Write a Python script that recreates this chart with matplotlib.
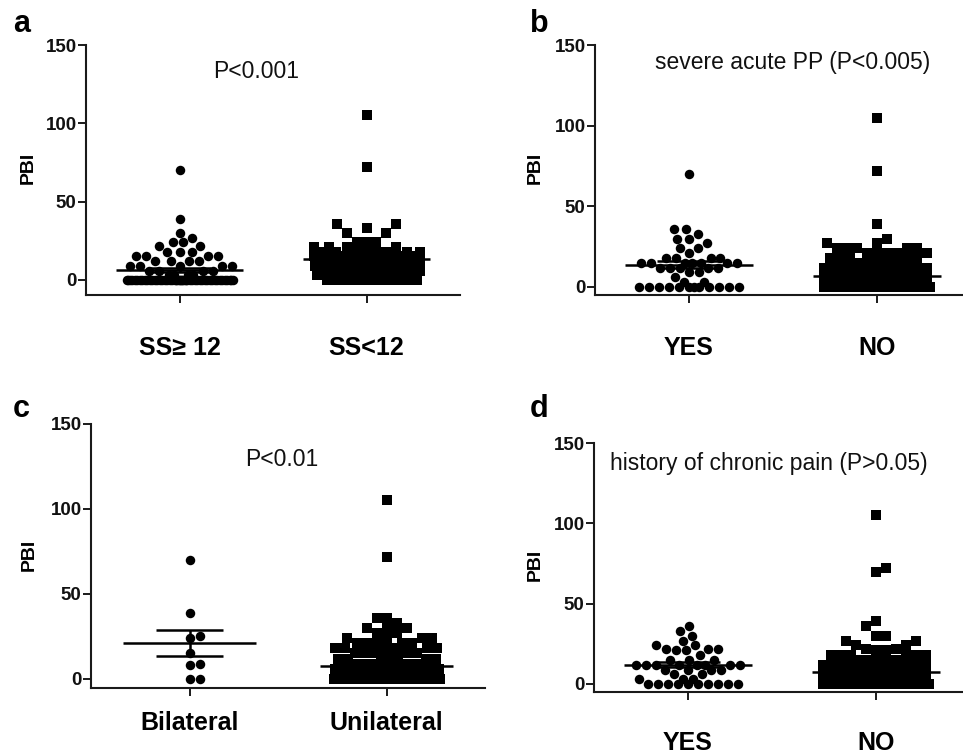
import numpy as np
import matplotlib
matplotlib.use('Agg')
import matplotlib.pyplot as plt

plt.rcParams['font.family'] = ['Liberation Sans', 'DejaVu Sans']

# PBI values and how many patients sit at each value
# a: SS>=12 vs SS<12
a_hi_vals = [70, 39, 30, 27, 24, 22, 18, 15, 12, 9, 6, 3, 0]
a_hi_counts = [1, 1, 1, 1, 2, 2, 3, 4, 4, 5, 4, 4, 50]
a_lo_vals = [105, 72, 36, 33, 30, 24, 21, 18, 15, 12, 9, 6, 3, 0]
a_lo_counts = [1, 1, 2, 1, 2, 3, 4, 8, 10, 10, 10, 10, 10, 10]

# b: severe acute postoperative pain yes / no
b_yes_vals = [70, 36, 33, 30, 27, 24, 21, 18, 15, 12, 9, 6, 3, 0]
b_yes_counts = [1, 2, 1, 2, 1, 2, 1, 4, 7, 5, 2, 1, 2, 12]
b_no_vals = [105, 72, 39, 30, 27, 24, 21, 18, 15, 12, 9, 6, 3, 0]
b_no_counts = [1, 1, 1, 1, 2, 5, 5, 5, 8, 7, 8, 8, 8, 83]

# c: bilateral vs unilateral
c_bi_vals = [70, 39, 25, 24, 15, 9, 8, 0]
c_bi_counts = [1, 1, 1, 1, 1, 1, 1, 2]
c_uni_vals = [105, 72, 36, 33, 30, 27, 24, 21, 18, 15, 12, 9, 6, 3, 0]
c_uni_counts = [1, 1, 2, 1, 3, 2, 4, 5, 6, 9, 8, 9, 9, 9, 79]

# d: history of chronic pain yes / no
d_yes_vals = [36, 33, 30, 27, 24, 22, 21, 18, 15, 12, 9, 6, 3, 0]
d_yes_counts = [1, 1, 1, 1, 2, 3, 2, 1, 3, 8, 4, 2, 3, 10]
d_no_vals = [105, 72, 70, 39, 36, 30, 27, 24, 22, 21, 18, 15, 12, 9, 6, 3, 0]
d_no_counts = [1, 1, 1, 1, 1, 2, 2, 2, 2, 2, 6, 8, 8, 8, 8, 8, 77]

FIG_W, FIG_H = 963, 755
MARKER_PX = 9.5

fig = plt.figure(figsize=(FIG_W / 100, FIG_H / 100), dpi=100)


def swarm_offsets(vals, px_x, px_y, diam, half_w, square):
    # simple beeswarm in pixel space, returns x offsets in data units
    steps = np.arange(0.5, half_w + 0.01, 0.5)
    cand = np.concatenate([[0.0], np.ravel(np.column_stack([steps, -steps]))])
    px, py = [], []
    for v in vals:
        y = v * px_y
        if not px:
            x = 0.0
        else:
            dx = np.abs(cand[:, None] - np.array(px)[None, :])
            dy = np.abs(y - np.array(py))[None, :]
            d = np.maximum(dx, dy) if square else np.hypot(dx, dy)
            mind = d.min(axis=1)
            ok = np.nonzero(mind >= diam - 1e-6)[0]
            x = cand[ok[0]] if len(ok) else cand[np.argmax(mind)]
        px.append(x)
        py.append(y)
    return np.array(px) / px_x


def draw_group(ax, xpos, values, counts, marker, px_x, px_y):
    vals = np.sort(np.repeat(values, counts).astype(float))
    off = swarm_offsets(vals, px_x, px_y, 10.0, 53, marker == 's')
    ax.scatter(xpos + off, vals, marker=marker, s=(MARKER_PX * 0.72) ** 2,
               c='black', linewidths=0, zorder=2, clip_on=False)
    mean = vals.mean()
    sem = vals.std(ddof=1) / np.sqrt(len(vals))
    ax.hlines(mean, xpos - 0.34, xpos + 0.34, color='black', lw=1.8, zorder=3)
    ax.hlines([mean - sem, mean + sem], xpos - 0.17, xpos + 0.17, color='black', lw=1.8, zorder=3)
    ax.vlines(xpos, mean - sem, mean + sem, color='black', lw=1.8, zorder=3)


def panel(rect, ymin, groups, labels, label_pad, note, note_xy, letter, letter_xy, ylab_xy):
    left, top, width, bottom = rect
    ax = fig.add_axes([left / FIG_W, 1 - bottom / FIG_H, width / FIG_W, (bottom - top) / FIG_H])
    ax.set_xlim(-0.5, 1.5)
    ax.set_ylim(ymin, 150)
    px_x = width / 2.0
    px_y = (bottom - top) / (150 - ymin)
    for i, (vals, counts, marker) in enumerate(groups):
        draw_group(ax, i, vals, counts, marker, px_x, px_y)

    for side in ['top', 'right']:
        ax.spines[side].set_visible(False)
    for side in ['left', 'bottom']:
        ax.spines[side].set_linewidth(1.5)
        ax.spines[side].set_color('#1a1a1a')
    ax.set_yticks([0, 50, 100, 150])
    ax.set_xticks([0, 1])
    ax.set_xticklabels(labels, fontsize=18, fontweight='bold')
    ax.tick_params(axis='both', direction='out', length=5.8, width=1.4, color='#1a1a1a')
    ax.tick_params(axis='y', labelsize=13.5, pad=1)
    ax.tick_params(axis='x', pad=label_pad)
    for t in ax.get_yticklabels():
        t.set_fontweight('bold')
        t.set_color('#111111')

    ax.text(note_xy[0], note_xy[1], note, fontsize=16.5, ha='center', va='center', color='#111111')
    fig.text(ylab_xy[0] / FIG_W, 1 - ylab_xy[1] / FIG_H, 'PBI', rotation=90,
             fontsize=14, fontweight='bold', ha='center', va='center')
    fig.text(letter_xy[0] / FIG_W, 1 - letter_xy[1] / FIG_H, letter,
             fontsize=22, fontweight='bold', ha='left', va='baseline')
    return ax


panel((86, 45, 374, 295), -9.6,
      [(a_hi_vals, a_hi_counts, 'o'), (a_lo_vals, a_lo_counts, 's')],
      ['SS\u2265 12', 'SS<12'], 24, 'P<0.001', (0.41, 133), 'a', (13, 32), (28, 168))

panel((595, 45, 376, 295), -5.0,
      [(b_yes_vals, b_yes_counts, 'o'), (b_no_vals, b_no_counts, 's')],
      ['YES', 'NO'], 24, 'severe acute PP (P<0.005)', (0.55, 139), 'b', (530, 32), (535, 168))

panel((91, 424, 394, 688), -5.3,
      [(c_bi_vals, c_bi_counts, 'o'), (c_uni_vals, c_uni_counts, 's')],
      ['Bilateral', 'Unilateral'], 11, 'P<0.01', (0.47, 129), 'c', (13, 417), (29, 555))

panel((594, 443, 376, 692), -5.0,
      [(d_yes_vals, d_yes_counts, 'o'), (d_no_vals, d_no_counts, 's')],
      ['YES', 'NO'], 22, 'history of chronic pain (P>0.05)', (0.43, 137), 'd', (530, 417), (535, 565))

fig.savefig('out.png', dpi=100, facecolor='white')
